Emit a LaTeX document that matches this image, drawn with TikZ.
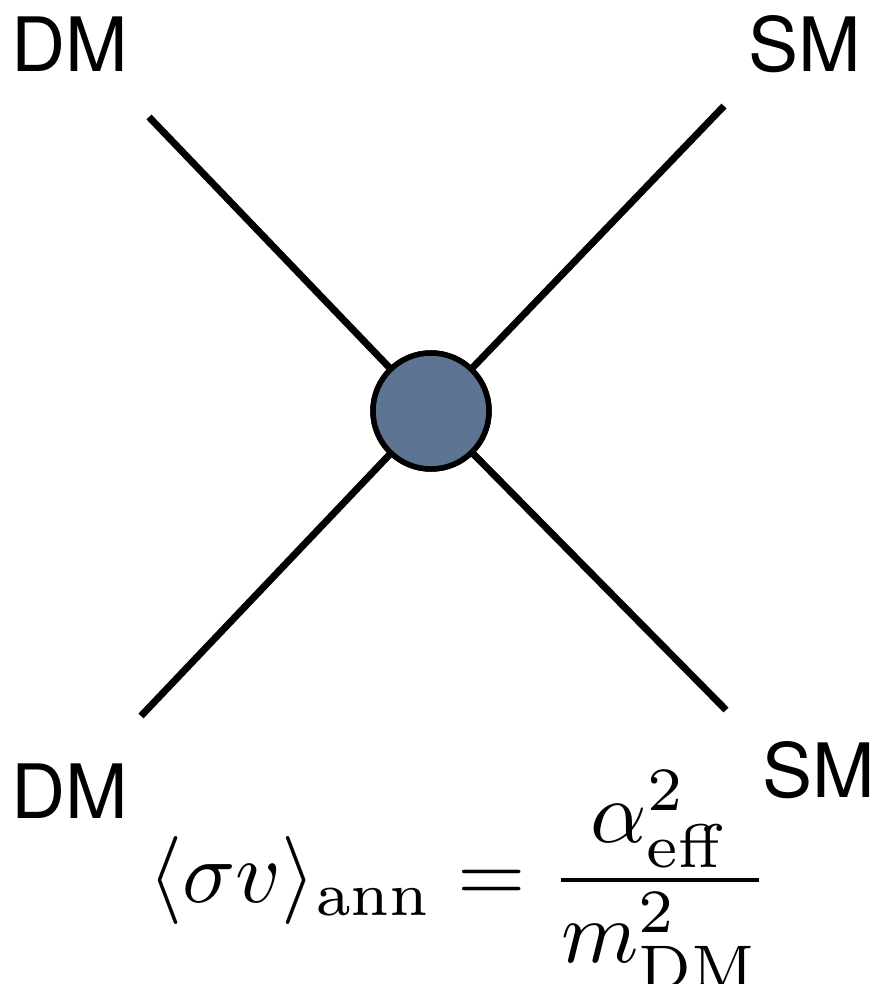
\documentclass[tikz,border=0pt]{standalone}
\usepackage[no-math]{fontspec}
\newfontfamily\helv{TeX Gyre Heros}
\definecolor{blobfill}{RGB}{93,116,146}
\begin{document}
\begin{tikzpicture}[x=1pt,y=-1pt,
  leg/.style={line width=7pt},
  lbl/.style={anchor=base west,inner sep=0pt,font=\helv\fontsize{75}{80}\selectfont},
  blob/.style={circle,draw,line width=5.5pt,fill=blobfill,minimum size=116pt,inner sep=0pt}]
\useasboundingbox (0,0) rectangle (875,984);
\node[blob] (c) at (431,411) {};
\coordinate (tl) at (149,117);
\coordinate (tr) at (724,106);
\coordinate (bl) at (141,716);
\coordinate (br) at (726,710);
\draw[leg] (tl) -- (c.center);
\draw[leg] (tr) -- (c.center);
\draw[leg] (bl) -- (c.center);
\draw[leg] (br) -- (c.center);
\node[blob] at (c) {};
\node[lbl] (l1) at (11,72) {DM};
\node[lbl] (l2) at (748,72) {SM};
\node[lbl] (l3) at (11,818) {DM};
\node[lbl] (l4) at (762,797) {SM};
\node[anchor=base west,inner sep=0pt] (f) at (148,902)
  {\scalebox{8.8}{$\displaystyle \langle\sigma v\rangle_{\rm ann}=\frac{\alpha^2_{\rm eff}}{m^2_{\rm DM}}$}};
\end{tikzpicture}
\end{document}
